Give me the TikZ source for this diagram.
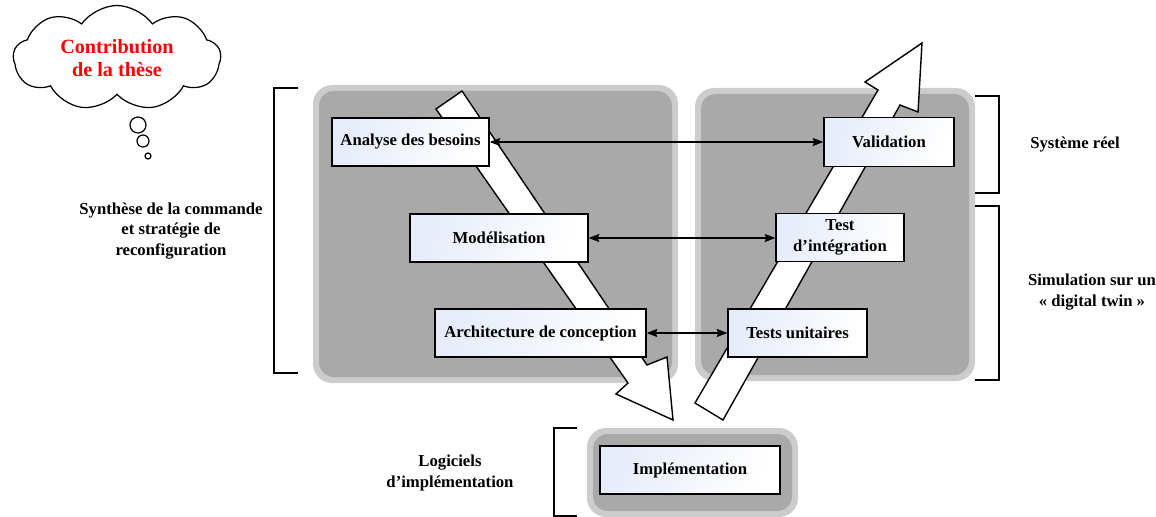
\documentclass[tikz,border=0pt]{standalone}
\usepackage{fontspec}
\setmainfont{Liberation Serif}
\usetikzlibrary{shapes.symbols,arrows.meta}
\definecolor{panelout}{RGB}{204,204,204}
\definecolor{panelin}{RGB}{169,169,169}
\definecolor{boxblue}{RGB}{230,236,250}
\tikzset{
  px/.style={x=0.02cm,y=-0.02cm},
  stagebox/.style={draw=black,line width=0.8pt,shade,left color=boxblue,right color=white,shading angle=70,
     font=\bfseries\fontsize{9.5}{12}\selectfont,align=center,inner sep=0pt},
  lbl/.style={font=\bfseries\fontsize{9.5}{11.8}\selectfont,align=center},
  link/.style={line width=0.7pt,{Stealth[length=6pt,width=4.6pt,inset=0.8pt]}-{Stealth[length=6pt,width=4.6pt,inset=0.8pt]}},
  bigarrow/.style={draw=black,fill=white,line width=0.8pt,line join=miter},
  brk/.style={line width=0.8pt},
}
\begin{document}
\begin{tikzpicture}[px]
\useasboundingbox (0,0) rectangle (1156,517);
% panels
\fill[panelout,rounded corners=0.38cm] (313,85) rectangle (678,383);
\fill[panelin,rounded corners=0.3cm] (319,91) rectangle (672,377);
\fill[panelout,rounded corners=0.38cm] (695,88) rectangle (975,381);
\fill[panelin,rounded corners=0.3cm] (701,94) rectangle (969,375);
\fill[panelout,rounded corners=0.38cm] (587,428) rectangle (798,517);
\fill[panelin,rounded corners=0.3cm] (593,434) rectangle (792,511);
% big block arrows
\draw[bigarrow] (436,109) -- (462,91) -- (647,365) -- (667,357) -- (673,420) -- (616,394) -- (628,383) -- cycle;
\draw[bigarrow] (695,403) -- (878,90) -- (865,82) -- (922,43) -- (918,112) -- (900,105) -- (723,420) -- cycle;
% stage boxes
\node[stagebox,minimum width=3.14cm,minimum height=0.96cm] (analyse) at (410.5,142) {Analyse des besoins};
\node[stagebox,minimum width=3.56cm,minimum height=0.96cm] (model) at (499,238) {Modélisation};
\node[stagebox,minimum width=4.22cm,minimum height=0.96cm] (archi) at (540.5,333) {Architecture de conception};
\node[stagebox,minimum width=2.6cm,minimum height=0.98cm] (valid) at (889,142) {Validation};
\node[stagebox,minimum width=2.56cm,minimum height=0.96cm] (integ) at (840,237.5) {Test\\d’intégration};
\node[stagebox,minimum width=2.78cm,minimum height=0.96cm] (unit) at (797.5,333) {Tests unitaires};
\node[stagebox,minimum width=3.6cm,minimum height=0.96cm] (impl) at (690,470) {Implémentation};
% links
\draw[link] (analyse.east) -- (analyse.east -| valid.west);
\draw[link] (model.east) -- (model.east -| integ.west);
\draw[link] (archi.east) -- (archi.east -| unit.west);
% brackets
\draw[brk] (298,88) -- (274,88) -- (274,373) -- (298,373);
\draw[brk] (975,96) -- (999,96) -- (999,193) -- (975,193);
\draw[brk] (975,206) -- (999,206) -- (999,380) -- (975,380);
\draw[brk] (577,428) -- (554,428) -- (554,516) -- (577,516);
% labels
\node[lbl] (synth) at (171,231) {Synthèse de la commande\\et stratégie de\\reconfiguration};
\node[lbl] (reel) at (1075,145) {Système réel};
\node[lbl] (simu) at (1092,292) {Simulation sur un\\« digital twin »};
\node[lbl] (logi) at (450,473) {Logiciels\\d’implémentation};
% cloud
\node[cloud,draw=black,line width=0.7pt,fill=white,cloud puffs=9,cloud puff arc=110,cloud ignores aspect,
      minimum width=4.15cm,minimum height=2.1cm,inner sep=0pt,
      text=red,font=\bfseries\fontsize{11.5}{13.5}\selectfont,align=center] (cloud) at (117,58) {Contribution\\de la thèse};
\draw[line width=0.7pt] (138,125) circle (8);
\draw[line width=0.7pt] (143,141) circle (6);
\draw[line width=0.7pt] (148,156) circle (3);
\end{tikzpicture}
\end{document}
